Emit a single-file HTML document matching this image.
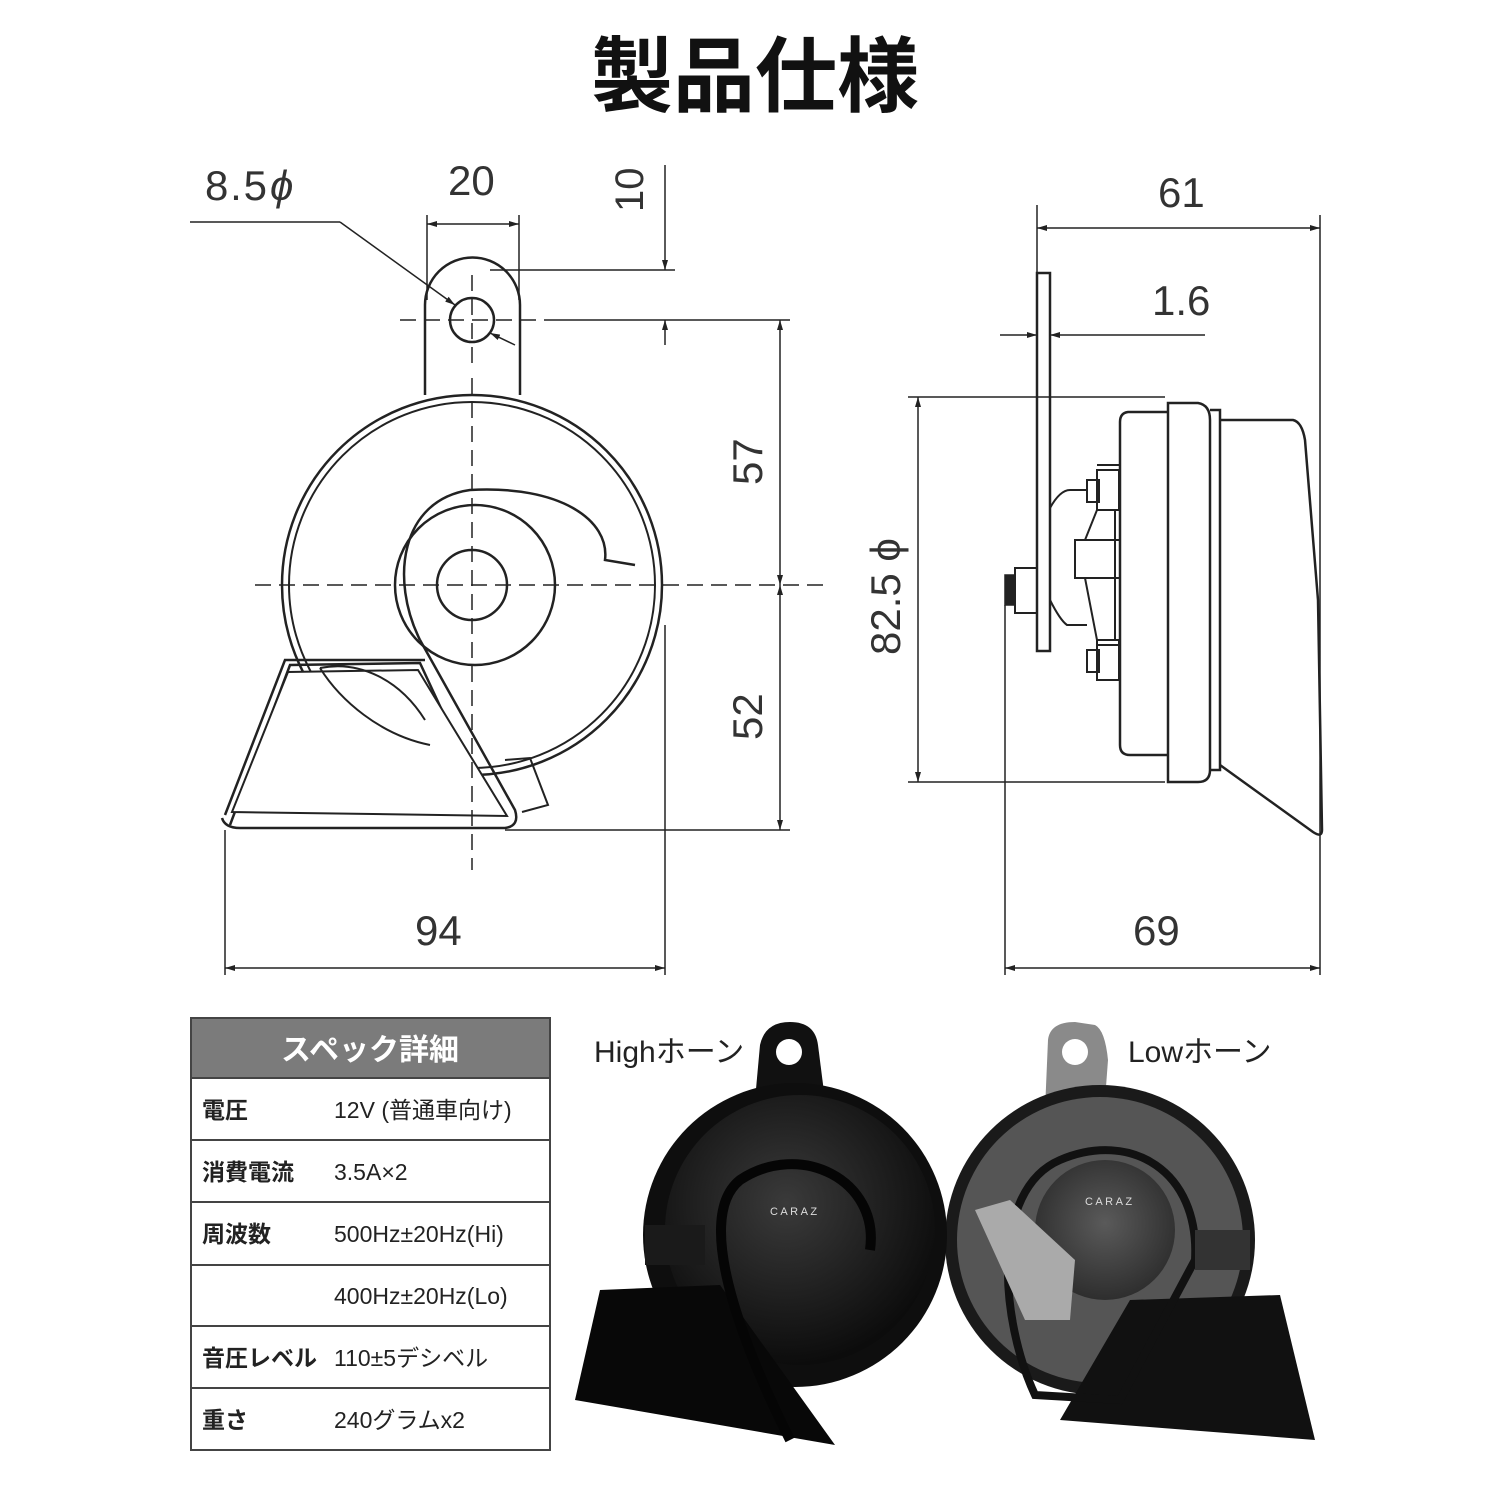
<!DOCTYPE html>
<html><head><meta charset="utf-8"><style>
html,body{margin:0;padding:0;background:#fff;}
body{width:1510px;height:1510px;position:relative;overflow:hidden;font-family:"Liberation Sans","Noto Sans CJK JP",sans-serif;}
svg{position:absolute;left:0;top:0;}
</style></head><body>
<svg width="1510" height="1510" viewBox="0 0 1510 1510" xmlns="http://www.w3.org/2000/svg">
<defs>
<marker id="a" viewBox="0 0 10 10" refX="10" refY="5" markerWidth="10" markerHeight="10" orient="auto-start-reverse" markerUnits="userSpaceOnUse"><path d="M0,2 L10,5 L0,8z" fill="#222"/></marker>
<radialGradient id="g1" cx="0.45" cy="0.4" r="0.6"><stop offset="0" stop-color="#3a3a3a"/><stop offset="1" stop-color="#0c0c0c"/></radialGradient>
<radialGradient id="g2" cx="0.5" cy="0.45" r="0.6"><stop offset="0" stop-color="#5a5a5a"/><stop offset="1" stop-color="#2a2a2a"/></radialGradient>
</defs>
<text x="755" y="105" text-anchor="middle" font-size="82" font-weight="bold" fill="#111" font-family="'Noto Sans CJK JP',sans-serif">製品仕様</text>

<g fill="none" stroke="#222" stroke-width="1.5" font-family="Liberation Sans,sans-serif">
<path d="M425,395 L425,305 A47,47 0 0 1 520,305 L520,395" stroke-width="2.5" fill="#fff"/>
<circle cx="472" cy="320" r="22" stroke-width="2.5"/>
<circle cx="472" cy="585" r="190" stroke-width="2.5"/>
<circle cx="472" cy="585" r="183" stroke-width="2"/>
<path d="M420,640 C390,580 400,500 470,490 C560,485 610,520 605,560 L635,565" stroke-width="2.5"/>
<circle cx="475" cy="585" r="80" stroke-width="2.5"/>
<circle cx="472" cy="585" r="35" stroke-width="2.5"/>
<path d="M230,825 L290,665 L420,663 L465,760 L470,780 M225,815 L285,660 L425,660" stroke-width="2.5"/>
<path d="M222,818 Q225,828 240,828 L505,828 Q520,826 515,810 L420,640" stroke-width="2.5"/>
<path d="M232,812 L288,672 L418,670 L507,816 Z" stroke-width="2" fill="#fff"/>
<path d="M320,668 C340,700 380,735 430,745 M320,668 C360,660 400,680 425,720" stroke-width="2"/>
<path d="M505,760 L530,758 L548,805 L522,812" stroke-width="2"/>
<g stroke-dasharray="16,8" stroke-width="1.5">
<line x1="472" y1="378" x2="472" y2="870"/>
<line x1="255" y1="585" x2="830" y2="585"/>
<line x1="400" y1="320" x2="545" y2="320"/>
<line x1="472" y1="275" x2="472" y2="370"/>
</g>
<line x1="190" y1="222" x2="340" y2="222"/>
<line x1="340" y1="222" x2="455" y2="305" marker-end="url(#a)"/>
<line x1="515" y1="345" x2="490" y2="333" marker-end="url(#a)"/>
<line x1="427" y1="215" x2="427" y2="300"/>
<line x1="519" y1="215" x2="519" y2="300"/>
<line x1="427" y1="224" x2="519" y2="224" marker-start="url(#a)" marker-end="url(#a)"/>
<line x1="490" y1="270" x2="675" y2="270"/>
<line x1="545" y1="320" x2="790" y2="320"/>
<line x1="665" y1="165" x2="665" y2="270" marker-end="url(#a)"/>
<line x1="665" y1="345" x2="665" y2="320" marker-end="url(#a)"/>
<line x1="780" y1="320" x2="780" y2="585" marker-start="url(#a)" marker-end="url(#a)"/>
<line x1="780" y1="585" x2="780" y2="830" marker-start="url(#a)" marker-end="url(#a)"/>
<line x1="505" y1="830" x2="790" y2="830"/>
<line x1="225" y1="830" x2="225" y2="975"/>
<line x1="665" y1="625" x2="665" y2="975"/>
<line x1="225" y1="968" x2="665" y2="968" marker-start="url(#a)" marker-end="url(#a)"/>
<rect x="1037" y="273" width="13" height="378" stroke-width="2.5" fill="#fff"/>
<line x1="1037" y1="205" x2="1037" y2="273"/>
<line x1="1320" y1="215" x2="1320" y2="975"/>
<line x1="1037" y1="228" x2="1320" y2="228" marker-start="url(#a)" marker-end="url(#a)"/>
<line x1="1000" y1="335" x2="1037" y2="335" marker-end="url(#a)"/>
<line x1="1205" y1="335" x2="1050" y2="335" marker-end="url(#a)"/>
<line x1="908" y1="397" x2="1165" y2="397"/>
<line x1="908" y1="782" x2="1165" y2="782"/>
<line x1="918" y1="397" x2="918" y2="782" marker-start="url(#a)" marker-end="url(#a)"/>
<path d="M1168,403 L1198,403 Q1210,405 1210,420 L1210,770 Q1210,782 1198,782 L1168,782 Z" stroke-width="2.5"/>
<path d="M1210,410 L1220,410 L1220,770 L1210,770" stroke-width="2.5"/>
<path d="M1168,412 L1128,412 Q1120,413 1120,422 L1120,745 Q1120,755 1130,755 L1168,755" stroke-width="2.5"/>
<path d="M1220,420 L1293,420 Q1302,422 1305,440 L1318,600 L1322,830 Q1322,838 1313,832 L1220,765" stroke-width="2.5"/>
<path d="M1097,465 L1120,465 L1120,505 M1097,645 L1120,645 L1120,685" stroke-width="2"/>
<rect x="1097" y="470" width="22" height="40" stroke-width="2"/>
<rect x="1087" y="480" width="12" height="22" stroke-width="2"/>
<rect x="1097" y="640" width="22" height="40" stroke-width="2"/>
<rect x="1087" y="650" width="12" height="22" stroke-width="2"/>
<path d="M1050,508 Q1060,490 1070,490 L1087,490 M1050,600 Q1060,620 1067,625 L1087,625" stroke-width="2"/>
<rect x="1075" y="540" width="45" height="38" stroke-width="2"/>
<path d="M1097,510 L1085,540 M1097,640 L1085,578 M1115,510 L1115,640" stroke-width="2"/>
<rect x="1015" y="568" width="22" height="45" stroke-width="2"/>
<rect x="1005" y="575" width="10" height="30" fill="#222"/>
<line x1="1005" y1="605" x2="1005" y2="975"/>
<line x1="1005" y1="968" x2="1320" y2="968" marker-start="url(#a)" marker-end="url(#a)"/>
</g>
<g fill="#333" font-size="42" font-family="Liberation Sans,sans-serif">
<text x="205" y="200" textLength="62">8.5</text><text x="270" y="200" font-style="italic">ϕ</text>
<text x="448" y="195">20</text>
<text x="643" y="212" transform="rotate(-90 643 212)" font-size="40">10</text>
<text x="762" y="485" transform="rotate(-90 762 485)">57</text>
<text x="762" y="740" transform="rotate(-90 762 740)">52</text>
<text x="415" y="945">94</text>
<text x="1158" y="207">61</text>
<text x="1152" y="315">1.6</text>
<text x="900" y="655" transform="rotate(-90 900 655)">82.5 ϕ</text>
<text x="1133" y="945">69</text>
</g>

<rect x="191" y="1018" width="359" height="432" fill="#fff" stroke="#444" stroke-width="2"/>
<rect x="191" y="1018" width="359" height="60" fill="#7b7b7b" stroke="#444" stroke-width="2"/>
<text x="370" y="1060" text-anchor="middle" fill="#fff" font-size="30" font-weight="bold" font-family="'Noto Sans CJK JP',sans-serif">スペック詳細</text>
<g stroke="#444" stroke-width="2">
<line x1="191" y1="1140" x2="550" y2="1140"/><line x1="191" y1="1202" x2="550" y2="1202"/>
<line x1="191" y1="1265" x2="550" y2="1265"/><line x1="191" y1="1326" x2="550" y2="1326"/>
<line x1="191" y1="1388" x2="550" y2="1388"/>
</g>
<g font-size="23" fill="#222" font-family="'Liberation Sans','Noto Sans CJK JP',sans-serif">
<g font-weight="bold"><text x="202" y="1118">電圧</text><text x="202" y="1180">消費電流</text><text x="202" y="1242">周波数</text><text x="202" y="1366">音圧レベル</text><text x="202" y="1428">重さ</text></g>
<text x="334" y="1118">12V (普通車向け)</text><text x="334" y="1180">3.5A×2</text>
<text x="334" y="1242">500Hz±20Hz(Hi)</text><text x="334" y="1304">400Hz±20Hz(Lo)</text>
<text x="334" y="1366">110±5デシベル</text><text x="334" y="1428">240グラムx2</text>
</g>

<text x="594" y="1062" font-size="30" fill="#222" font-family="'Liberation Sans','Noto Sans CJK JP',sans-serif">Highホーン</text>
<text x="1128" y="1062" font-size="30" fill="#222" font-family="'Liberation Sans','Noto Sans CJK JP',sans-serif">Lowホーン</text>
<path d="M1045,1110 L1048,1040 Q1050,1022 1075,1022 L1095,1025 Q1105,1030 1108,1060 L1105,1100 Z" fill="#8a8a8a"/>
<circle cx="1075" cy="1052" r="13" fill="#fff"/>
<circle cx="1100" cy="1240" r="155" fill="#1a1a1a"/>
<circle cx="1100" cy="1240" r="143" fill="#555"/>
<path d="M1060,1420 L1130,1300 L1280,1295 L1315,1440 Z" fill="#111"/>
<path d="M1035,1395 C1000,1320 990,1190 1060,1160 C1130,1130 1200,1170 1195,1260 L1120,1400 Z" fill="none" stroke="#111" stroke-width="8"/>
<circle cx="1105" cy="1230" r="70" fill="url(#g2)"/>
<path d="M975,1210 L1010,1200 L1075,1260 L1070,1320 L1025,1320 Z" fill="#aaa"/>
<rect x="1195" y="1230" width="55" height="40" fill="#333"/>
<path d="M755,1100 L760,1045 Q765,1022 790,1022 Q815,1022 818,1045 L825,1100 Z" fill="#111"/>
<circle cx="789" cy="1052" r="13" fill="#fff"/>
<circle cx="795" cy="1235" r="152" fill="#0e0e0e"/>
<circle cx="800" cy="1230" r="135" fill="url(#g1)"/>
<path d="M575,1400 L600,1290 L720,1285 L835,1445 Z" fill="#080808"/>
<rect x="645" y="1225" width="60" height="40" fill="#1a1a1a"/>
<path d="M790,1440 C750,1360 690,1220 740,1180 C800,1140 880,1180 870,1250" fill="none" stroke="#050505" stroke-width="10"/>
<text x="770" y="1215" font-size="11" fill="#ddd" font-family="Liberation Sans,sans-serif">C A R A Z</text>
<text x="1085" y="1205" font-size="11" fill="#ddd" font-family="Liberation Sans,sans-serif">C A R A Z</text>
</svg>
</body></html>
